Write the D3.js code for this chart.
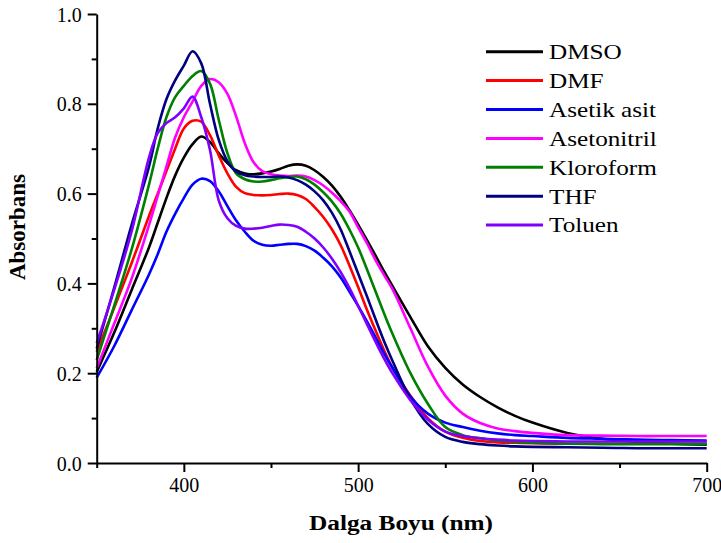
<!DOCTYPE html>
<html><head><meta charset="utf-8">
<script src="https://cdn.jsdelivr.net/npm/d3@7"></script>
<style>html,body{margin:0;padding:0;background:#fff;}svg{display:block;} text{font-family:"Liberation Serif","Times New Roman",serif;}</style>
</head><body>
<svg id="chart" width="721" height="543"></svg>
<script>
const wavelengths = [350,360,370,380,385,390,395,400,405,410,415,420,425,430,435,440,445,450,455,460,465,470,475,480,485,490,495,500,505,510,515,520,530,540,550,560,570,580,590,600,620,640,660,680,700];
const seriesNames = ["DMSO","DMF","Asetik asit","Asetonitril","Kloroform","THF","Toluen"];
const seriesColors = ["#000000","#ff0000","#0000ff","#ff00ff","#008000","#000080","#8000ff"];
const dmso =        [0.203,0.29,0.385,0.48,0.535,0.59,0.64,0.68,0.71,0.727,0.715,0.69,0.668,0.652,0.645,0.643,0.645,0.649,0.655,0.662,0.665,0.662,0.652,0.637,0.618,0.593,0.563,0.531,0.497,0.462,0.426,0.392,0.325,0.26,0.212,0.175,0.147,0.124,0.105,0.09,0.067,0.054,0.047,0.043,0.041];
const dmf =         [0.248,0.345,0.445,0.55,0.60,0.65,0.70,0.745,0.762,0.76,0.73,0.685,0.645,0.615,0.601,0.597,0.596,0.597,0.599,0.600,0.597,0.588,0.57,0.548,0.52,0.485,0.44,0.392,0.342,0.295,0.25,0.21,0.15,0.10,0.07,0.056,0.049,0.046,0.045,0.044,0.043,0.043,0.043,0.043,0.043];
const asetikAsit =  [0.19,0.26,0.34,0.42,0.465,0.515,0.555,0.59,0.62,0.633,0.628,0.605,0.572,0.54,0.515,0.495,0.486,0.484,0.486,0.488,0.488,0.483,0.473,0.457,0.438,0.413,0.382,0.35,0.316,0.28,0.243,0.21,0.148,0.11,0.09,0.08,0.072,0.066,0.062,0.06,0.056,0.054,0.052,0.051,0.05];
const asetonitril = [0.211,0.31,0.41,0.53,0.595,0.66,0.725,0.77,0.805,0.84,0.855,0.848,0.822,0.772,0.712,0.67,0.65,0.643,0.640,0.639,0.640,0.638,0.630,0.618,0.602,0.583,0.56,0.525,0.49,0.452,0.418,0.385,0.3,0.215,0.15,0.11,0.089,0.077,0.071,0.067,0.062,0.061,0.060,0.060,0.060];
const kloroform =   [0.229,0.35,0.475,0.62,0.70,0.77,0.815,0.84,0.862,0.873,0.845,0.765,0.69,0.645,0.632,0.627,0.627,0.630,0.634,0.637,0.638,0.632,0.62,0.603,0.582,0.555,0.52,0.48,0.432,0.382,0.332,0.285,0.2,0.132,0.08,0.062,0.055,0.05,0.047,0.045,0.043,0.042,0.042,0.042,0.042];
const thf =         [0.255,0.39,0.53,0.66,0.745,0.81,0.852,0.885,0.917,0.89,0.80,0.72,0.672,0.649,0.641,0.638,0.637,0.637,0.638,0.636,0.63,0.62,0.605,0.585,0.557,0.52,0.472,0.422,0.372,0.32,0.27,0.225,0.143,0.087,0.058,0.047,0.042,0.039,0.037,0.036,0.035,0.034,0.033,0.033,0.033];
const toluen =      [0.267,0.385,0.515,0.68,0.735,0.757,0.77,0.79,0.816,0.77,0.697,0.585,0.545,0.528,0.522,0.522,0.524,0.528,0.531,0.530,0.526,0.515,0.50,0.48,0.455,0.425,0.39,0.35,0.31,0.27,0.232,0.198,0.14,0.097,0.07,0.06,0.055,0.052,0.05,0.049,0.048,0.048,0.048,0.048,0.048];
const xTickValues = [400,500,600,700];
const xMinorTicks = [350,450,550,650];
const yTickValues = [0.0,0.2,0.4,0.6,0.8,1.0];
const yMinorTicks = [0.1,0.3,0.5,0.7,0.9];

const allSeries = [dmso, dmf, asetikAsit, asetonitril, kloroform, thf, toluen];

const svg = d3.select("#chart");
const x = d3.scaleLinear().domain([350,700]).range([96.7,706.7]);
const y = d3.scaleLinear().domain([0,1.0]).range([463,14]);

const serif = "Liberation Serif, Times New Roman, serif";

// curves
const line = d3.line().x(d=>x(d[0])).y(d=>y(d[1])).curve(d3.curveCatmullRom.alpha(0.5));
allSeries.forEach((vals,i)=>{
  svg.append("path")
    .datum(wavelengths.map((w,j)=>[w,vals[j]]))
    .attr("fill","none").attr("stroke",seriesColors[i])
    .attr("stroke-width",2.6).attr("stroke-linejoin","round")
    .attr("d",line);
});

// axes
const gx = svg.append("g").attr("transform","translate(0,463)")
  .call(d3.axisBottom(x).tickValues(xTickValues).tickSize(9).tickFormat(d3.format("d")).tickSizeOuter(0));
svg.append("g").attr("transform","translate(0,463)")
  .call(d3.axisBottom(x).tickValues(xMinorTicks).tickSize(5).tickFormat("").tickSizeOuter(0))
  .select(".domain").remove();
const gy = svg.append("g").attr("transform","translate(96.7,0)")
  .call(d3.axisLeft(y).tickValues(yTickValues).tickSize(9).tickFormat(d3.format(".1f")).tickSizeOuter(0));
svg.append("g").attr("transform","translate(96.7,0)")
  .call(d3.axisLeft(y).tickValues(yMinorTicks).tickSize(5).tickFormat("").tickSizeOuter(0))
  .select(".domain").remove();

svg.selectAll("g").attr("font-family",serif);
svg.selectAll(".domain").attr("stroke","#000").attr("stroke-width",2);
svg.selectAll(".tick line").attr("stroke","#000").attr("stroke-width",2);
gx.selectAll(".tick text").style("font-family",serif).attr("font-size",20).attr("fill","#000").attr("y",14).attr("dy","0.75em");
gy.selectAll(".tick text").style("font-family",serif).attr("font-size",20).attr("fill","#000").attr("x",-15).attr("dy","0.35em");

// axis titles
svg.append("text").attr("transform","translate(401,530) scale(1.15,1)").attr("text-anchor","middle")
  .style("font-family",serif).attr("font-weight","bold").attr("font-size",22).attr("fill","#000")
  .text("Dalga Boyu (nm)");
svg.append("text").attr("transform","translate(25,227) rotate(-90)").attr("text-anchor","middle")
  .style("font-family",serif).attr("font-weight","bold").attr("font-size",23).attr("fill","#000")
  .text("Absorbans");

// legend
const legendY0 = 51.7, legendDy = 28.9;
const lg = svg.append("g");
seriesNames.forEach((name,i)=>{
  const yy = legendY0 + i*legendDy;
  lg.append("line").attr("x1",486).attr("x2",543).attr("y1",yy).attr("y2",yy)
    .attr("stroke",seriesColors[i]).attr("stroke-width",3);
  lg.append("text").attr("transform",`translate(549,${yy}) scale(1.2,1)`).attr("dy","0.35em")
    .style("font-family",serif).attr("font-size",21).attr("fill","#000").text(name);
});
</script>
</body></html>
